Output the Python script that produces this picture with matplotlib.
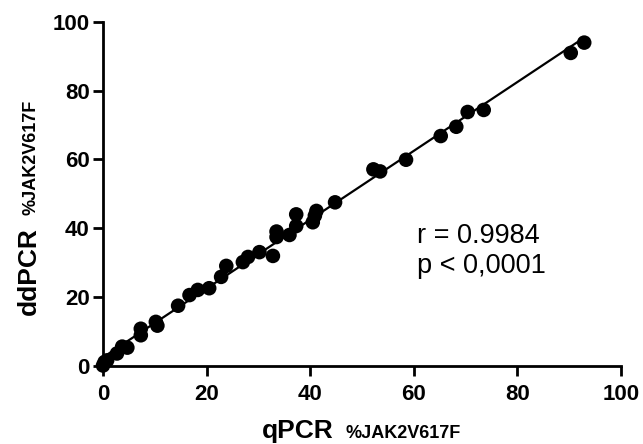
import numpy as np
import matplotlib
matplotlib.use("Agg")
import matplotlib.pyplot as plt

plt.rcParams['font.family'] = ['Liberation Sans', 'DejaVu Sans']

# qPCR vs ddPCR allele burden (%JAK2V617F)
qpcr = [0.0, 0.3, 0.8, 2.7, 3.7, 4.7, 7.3, 7.3, 10.2, 10.5, 14.5, 16.7, 18.3,
        20.5, 22.8, 23.8, 27.0, 28.0, 30.2, 32.8, 33.5, 33.5, 36.0, 37.3, 37.3,
        40.5, 40.9, 41.2, 44.8, 52.2, 53.5, 58.5, 65.2, 68.2, 70.4, 73.5, 90.3, 92.9]
ddpcr = [0.0, 1.0, 1.5, 3.5, 5.5, 5.2, 8.8, 10.7, 12.7, 11.6, 17.4, 20.5, 22.0,
         22.5, 25.8, 29.0, 30.1, 31.6, 33.0, 31.9, 39.0, 37.4, 38.0, 40.6, 44.0,
         41.7, 43.6, 45.0, 47.5, 57.1, 56.5, 59.9, 66.8, 69.5, 73.8, 74.4, 91.0, 94.0]
ticks = [0, 20, 40, 60, 80, 100]
stats_lines = ["r = 0.9984", "p < 0,0001"]

W, H = 643, 444
fig = plt.figure(figsize=(W / 100, H / 100), dpi=100)
ax = fig.add_axes([103 / W, 1 - 365.5 / H, (621 - 103) / W, (365.5 - 22) / H])

x = np.array(qpcr)
y = np.array(ddpcr)
slope, icpt = np.polyfit(x, y, 1)
xl = np.array([x.min(), x.max()])
ax.plot(xl, slope * xl + icpt, color='black', lw=1.6, zorder=2)
ax.scatter(x, y, s=110, color='black', edgecolors='none', zorder=3, clip_on=False)

ax.set_xlim(0, 100)
ax.set_ylim(0, 100)
ax.set_xticks(ticks)
ax.set_yticks(ticks)
for s in ['top', 'right']:
    ax.spines[s].set_visible(False)
for s in ['left', 'bottom']:
    ax.spines[s].set_linewidth(2.0)
ax.tick_params(axis='both', length=7.5, width=2.0, direction='out', labelsize=16)
ax.tick_params(axis='x', pad=6)
ax.tick_params(axis='y', pad=2)
for lab in ax.get_xticklabels() + ax.get_yticklabels():
    lab.set_fontweight('bold')

# stats annotation
ax.text(60.6, 35.6, stats_lines[0], fontsize=19.5, va='baseline', ha='left')
ax.text(60.6, 26.8, stats_lines[1], fontsize=19.5, va='baseline', ha='left')

# axis labels with small subscript part
fig.canvas.draw()
r = fig.canvas.get_renderer()
px = lambda xp, yp: (xp / W, 1 - yp / H)

t1 = fig.text(*px(262, 438), "qPCR", fontsize=19, fontweight='bold',
              ha='left', va='baseline')
bb = t1.get_window_extent(r)
fig.text((bb.x1 + 12) / W, 1 - 438 / H, "%JAK2V617F", fontsize=13,
         fontweight='bold', ha='left', va='baseline')

t2 = fig.text(*px(36, 315), "ddPCR", fontsize=19, fontweight='bold',
              rotation=90, rotation_mode='anchor', ha='left', va='baseline')
bb = t2.get_window_extent(r)
fig.text(36 / W, (bb.y1 + 12) / H, "%JAK2V617F", fontsize=13,
         fontweight='bold', rotation=90, rotation_mode='anchor',
         ha='left', va='baseline')

fig.savefig("out.png", dpi=100)
